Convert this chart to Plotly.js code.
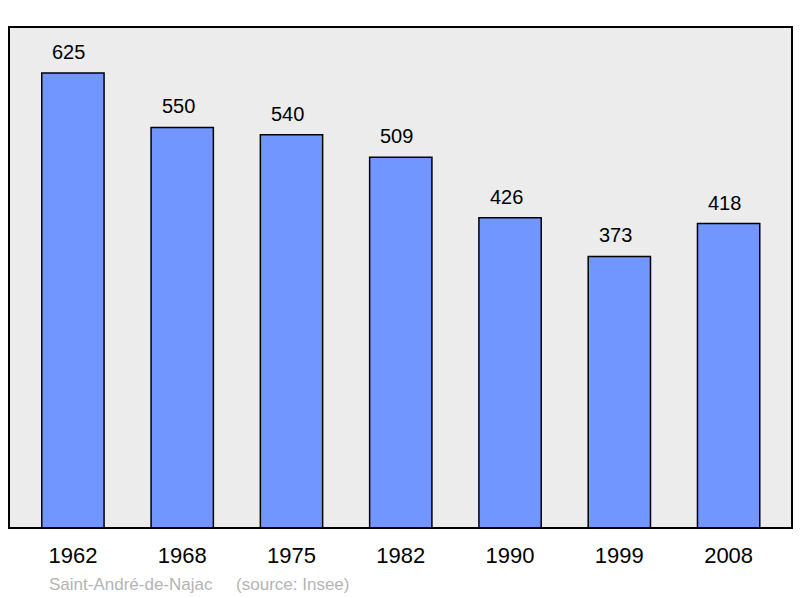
<!DOCTYPE html>
<html>
<head>
<meta charset="utf-8">
<script src="https://cdn.plot.ly/plotly-3.0.1.min.js"></script>
<style>
  html, body { margin: 0; padding: 0; background: #fff; }
  #chart { width: 800px; height: 598px; }
</style>
</head>
<body>
<div id="chart"></div>
<script>
// population by census year
const years = ['1962', '1968', '1975', '1982', '1990', '1999', '2008'];
const population = [625, 550, 540, 509, 426, 373, 418];
const caption = 'Saint-André-de-Najac&nbsp;&nbsp;&nbsp;&nbsp;&nbsp;(source: Insee)';

const xpos = years.map((y, i) => i);

const trace = {
  type: 'bar',
  x: xpos,
  y: population,
  width: 0.57,
  marker: {
    color: 'rgb(114,150,255)',
    line: { color: '#000', width: 1.5 }
  },
  hoverinfo: 'skip'
};

const labels = population.map((v, i) => ({
  x: i, y: v, xref: 'x', yref: 'y',
  text: String(v),
  showarrow: false,
  yanchor: 'bottom',
  yshift: 8,
  xshift: -4,
  font: { family: 'Liberation Sans, Arial, sans-serif', size: 20, color: '#000' }
}));

// caption under the axis
labels.push({
  xref: 'paper', yref: 'paper',
  x: 38 / 783, y: -56 / 501,
  xanchor: 'left', yanchor: 'middle',
  text: caption, showarrow: false,
  font: { family: 'Liberation Sans, Arial, sans-serif', size: 17, color: '#b4b4b4' }
});

const layout = {
  width: 800,
  height: 598,
  margin: { l: 9, r: 8, t: 27, b: 70 },
  paper_bgcolor: '#fff',
  plot_bgcolor: '#ececec',
  showlegend: false,
  xaxis: {
    range: [-0.585, 6.58],
    tickmode: 'array',
    tickvals: xpos,
    ticktext: years,
    showgrid: false,
    zeroline: false,
    showline: false,
    ticks: '',
    ticklen: 0,
    ticklabelstandoff: 12,
    tickfont: { family: 'Liberation Sans, Arial, sans-serif', size: 22, color: '#000' }
  },
  yaxis: {
    range: [0, 688],
    showgrid: false,
    zeroline: false,
    showticklabels: false,
    ticks: ''
  },
  shapes: [{
    type: 'rect', xref: 'paper', yref: 'paper',
    x0: 0, x1: 1, y0: 0, y1: 1,
    line: { color: '#000', width: 2 }
  }],
  annotations: labels
};

Plotly.newPlot('chart', [trace], layout, { displayModeBar: false, staticPlot: true });
</script>
</body>
</html>
